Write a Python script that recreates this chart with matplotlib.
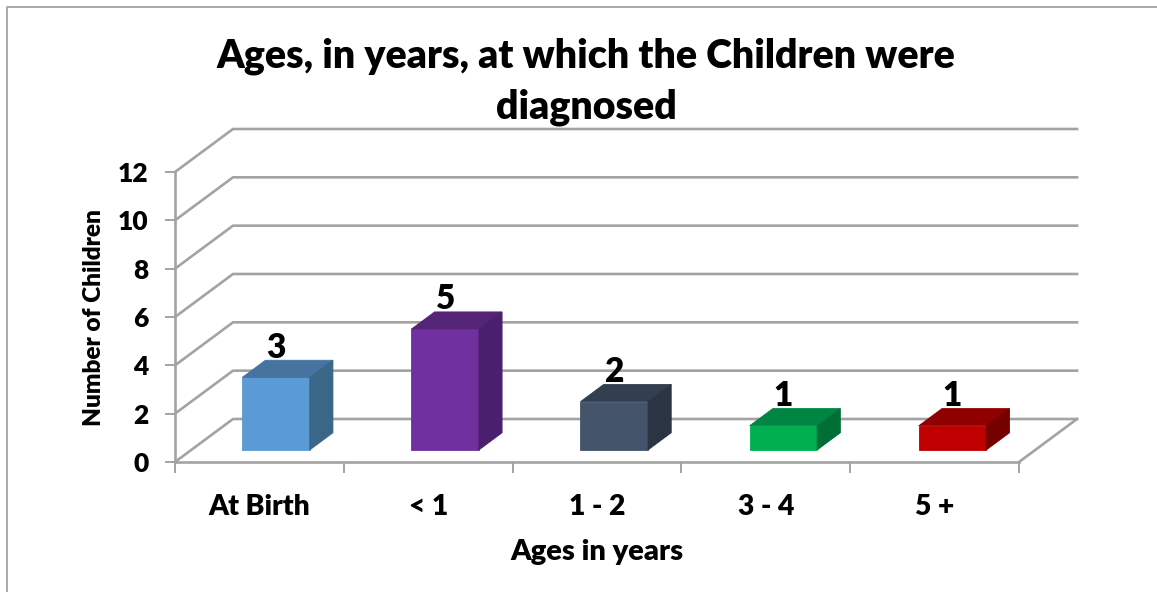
import matplotlib
matplotlib.use("Agg")
import matplotlib.pyplot as plt
from matplotlib.patches import Polygon

categories = ["At Birth", "< 1", "1 - 2", "3 - 4", "5 +"]
values = [3, 5, 2, 1, 1]
y_ticks = [0, 2, 4, 6, 8, 10, 12]
front_colors = ["#5B9BD5", "#7030A0", "#44546A", "#00B050", "#C00000"]
top_colors = ["#44749F", "#542478", "#333F50", "#008542", "#900000"]
side_colors = ["#3A6688", "#4A1F6E", "#2A3442", "#006F35", "#750000"]

plt.rcParams["font.family"] = ["Lato", "DejaVu Sans"]
plt.rcParams["font.weight"] = 800

W, H = 1157, 592
GRAY = "#A3A3A3"

fig = plt.figure(figsize=(W / 100, H / 100), dpi=100)
# axes box is the front plane of the chart, in pixels of the picture
left, right, top, bottom = 175, 1019, 172, 462
ax = fig.add_axes([left / W, 1 - bottom / H, (right - left) / W, (bottom - top) / H])
ax.set_xlim(0, 5)
ax.set_ylim(0, 12)
ax.patch.set_visible(False)

# how far the back wall is shifted from the front plane, in data units
px_x = (right - left) / 5
px_y = (bottom - top) / 12
dx = 58 / px_x
dy = 43 / px_y


def proj(x, y, d):
    return x + d * dx, y + d * dy


# walls and grid
for v in y_ticks:
    xs, ys = zip(proj(0, v, 0), proj(0, v, 1), proj(5, v, 1))
    ax.plot(xs, ys, color=GRAY, lw=1.9, clip_on=False, zorder=1, solid_joinstyle="miter")
xs, ys = zip(proj(5, 0, 1), proj(5, 0, 0))
ax.plot(xs, ys, color=GRAY, lw=1.9, clip_on=False, zorder=1)

# 3d bars
d0, d1 = 0.28, 0.68
bar_w = 0.4
for i, v in enumerate(values):
    mid = i * 1.002 + 0.502
    x0 = mid - bar_w / 2
    x1 = mid + bar_w / 2
    a = proj(x0, 0, d0)
    b = proj(x1, 0, d0)
    c = proj(x1, v, d0)
    e = proj(x0, v, d0)
    f = proj(x0, v, d1)
    g = proj(x1, v, d1)
    h = proj(x1, 0, d1)
    ax.add_patch(Polygon([a, b, c, e], color=front_colors[i], lw=0.6, clip_on=False, zorder=3))
    ax.add_patch(Polygon([e, c, g, f], color=top_colors[i], lw=0.6, clip_on=False, zorder=3))
    ax.add_patch(Polygon([b, h, g, c], color=side_colors[i], lw=0.6, clip_on=False, zorder=3))
    # label sits over the front face, just above the top of the bar
    lx, ly = proj(mid, v, d1)
    ax.annotate(str(v), (mid + d0 * dx, ly), xytext=(0, -2.5), textcoords="offset points",
                ha="center", va="bottom", fontsize=24, color="black", zorder=4,
                annotation_clip=False)

for s in ["top", "right"]:
    ax.spines[s].set_visible(False)
for s in ["left", "bottom"]:
    ax.spines[s].set_color(GRAY)
    ax.spines[s].set_linewidth(1.9)
    ax.spines[s].set_zorder(2)

ax.set_yticks(y_ticks)
ax.set_xticks(range(6))
ax.set_xticklabels([])
ax.set_xticks([i + 0.5 for i in range(5)], categories, minor=True)
ax.tick_params(axis="y", which="major", length=7, width=1.4, color=GRAY, labelsize=19, pad=12)
ax.tick_params(axis="x", which="major", length=8, width=1.4, color=GRAY)
ax.tick_params(axis="x", which="minor", length=0, labelsize=20.3, pad=23)

fig.text(94 / W, 1 - 318 / H, "Number of Children", rotation=90, ha="center", va="center", fontsize=17.6)
fig.text(597 / W, 1 - 552 / H, "Ages in years", ha="center", va="center", fontsize=21)
fig.text(586 / W, 1 - 56 / H, "Ages, in years, at which the Children were", ha="center", va="center", fontsize=28.3)
fig.text(586 / W, 1 - 107 / H, "diagnosed", ha="center", va="center", fontsize=28.3)

# outer chart border, only left and top show in the crop
fig.add_artist(plt.Line2D([7 / W, 7 / W, 1], [0, 1 - 7 / H, 1 - 7 / H], color=GRAY, lw=1.3))

fig.savefig("out.png", dpi=100)
